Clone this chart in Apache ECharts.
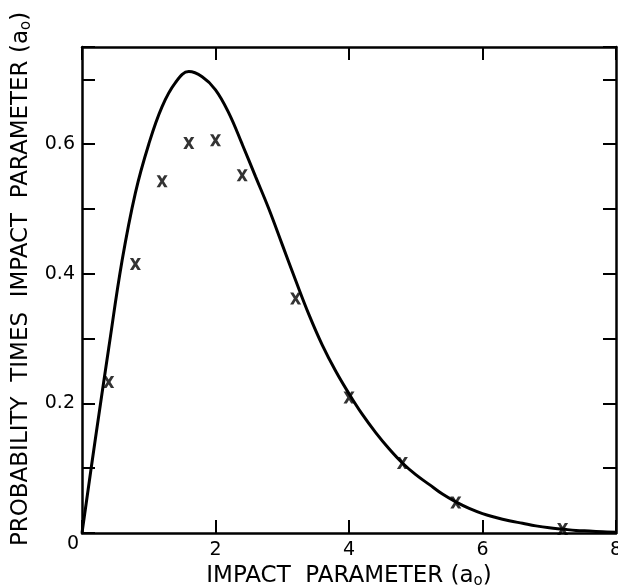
<!DOCTYPE html>
<html>
<head>
<meta charset="utf-8">
<script src="https://cdn.jsdelivr.net/npm/echarts@6/dist/echarts.min.js"></script>
<style>html,body{margin:0;padding:0;background:#fff}#c{width:618px;height:588px}</style>
</head>
<body>
<div id="c"></div>
<script>
// Theoretical curve (solid line)
var curveX = [0, 0.2, 0.4, 0.6, 0.8, 1.0, 1.2, 1.4, 1.6, 1.8, 2.0, 2.2, 2.4, 2.6, 2.8, 3.0, 3.2, 3.4, 3.6, 3.8, 4.0, 4.2, 4.4, 4.6, 4.8, 5.0, 5.2, 5.4, 5.6, 5.8, 6.0, 6.2, 6.4, 6.6, 6.8, 7.0, 7.2, 7.4, 7.6, 7.8, 8.0];
var curveY = [0, 0.145, 0.285, 0.42, 0.525, 0.60, 0.658, 0.695, 0.712, 0.704, 0.684, 0.648, 0.60, 0.55, 0.50, 0.445, 0.39, 0.337, 0.29, 0.25, 0.215, 0.183, 0.155, 0.13, 0.108, 0.09, 0.075, 0.06, 0.048, 0.038, 0.03, 0.024, 0.019, 0.015, 0.011, 0.008, 0.006, 0.004, 0.003, 0.002, 0.001];
// Data points (x markers)
var pointX = [0.4, 0.8, 1.2, 1.6, 2.0, 2.4, 3.2, 4.0, 4.8, 5.6, 7.2];
var pointY = [0.233, 0.415, 0.543, 0.602, 0.606, 0.552, 0.362, 0.209, 0.108, 0.047, 0.006];
// Tick labels
var xTickLabels = ['2', '4', '6', '8'];
var yTickLabels = ['0', '0.2', '0.4', '0.6'];

var FONT = 'DejaVu Sans';
var curve = curveX.map(function (x, i) { return [x, curveY[i]]; });
var pts = pointX.map(function (x, i) { return [x, pointY[i]]; });
var XSYM = 'path://M0,0 L3,0 L5,3 L7,0 L10,0 L6.6,5 L10,10 L7,10 L5,7 L3,10 L0,10 L3.4,5 Z';

function axisLine() { return { show: true, onZero: false, lineStyle: { color: '#000', width: 2.5 } }; }
function tick() { return { show: true, inside: true, length: 13, lineStyle: { color: '#000', width: 2 } }; }
var subRich = { s: { fontFamily: FONT, fontSize: 15, color: '#000', padding: [10, 0, 0, 0] } };

var chart = echarts.init(document.getElementById('c'), null, { renderer: 'canvas' });
chart.setOption({
  animation: false,
  backgroundColor: '#fff',
  grid: { left: 82, right: 2, top: 47, bottom: 55, containLabel: false, outerBoundsMode: 'none' },
  xAxis: [{
    type: 'value', min: 0, max: 8, interval: 2, position: 'bottom',
    axisLine: axisLine(), axisTick: tick(), splitLine: { show: false },
    axisLabel: {
      margin: 8, color: '#000', fontFamily: FONT, fontSize: 19,
      formatter: function (v) { var s = String(v); return xTickLabels.indexOf(s) >= 0 ? s : ''; }
    },
    name: 'IMPACT  PARAMETER (a{s|o})', nameLocation: 'middle', nameGap: 30,
    nameTextStyle: { color: '#000', fontFamily: FONT, fontSize: 23, rich: subRich }
  }, {
    type: 'value', min: 0, max: 8, interval: 2, position: 'top',
    axisLine: axisLine(), axisTick: tick(), splitLine: { show: false }, axisLabel: { show: false }
  }],
  yAxis: [{
    type: 'value', min: 0, max: 0.75, interval: 0.1, position: 'left',
    axisLine: axisLine(), axisTick: tick(), splitLine: { show: false },
    axisLabel: {
      margin: 3, color: '#000', fontFamily: FONT, fontSize: 19,
      formatter: function (v) {
        if (Math.abs(v * 10 - Math.round(v * 10)) > 1e-6) return '';
        var s = String(Math.round(v * 10) / 10);
        if (yTickLabels.indexOf(s) < 0) return '';
        return s === '0' ? '{z|0}' : '{n|' + s + '}';
      },
      rich: {
        n: { fontFamily: FONT, fontSize: 19, color: '#000', padding: [0, 4, 0, 0] },
        z: { fontFamily: FONT, fontSize: 19, color: '#000', padding: [22, 0, 0, 0] }
      }
    },
    name: 'PROBABILITY  TIMES  IMPACT  PARAMETER (a{s|o})', nameLocation: 'middle', nameRotate: 90, nameGap: 48,
    nameTextStyle: { color: '#000', fontFamily: FONT, fontSize: 23, padding: [0, 0, 0, 22], rich: subRich }
  }, {
    type: 'value', min: 0, max: 0.75, interval: 0.1, position: 'right',
    axisLine: axisLine(), axisTick: tick(), splitLine: { show: false }, axisLabel: { show: false }
  }],
  series: [{
    type: 'line', data: curve, smooth: 0.4, showSymbol: false, clip: false,
    lineStyle: { color: '#000', width: 3 }, z: 2
  }, {
    type: 'scatter', data: pts, symbol: XSYM, symbolSize: [11, 12],
    itemStyle: { color: '#000' }, z: 3
  }]
});
</script>
</body>
</html>
